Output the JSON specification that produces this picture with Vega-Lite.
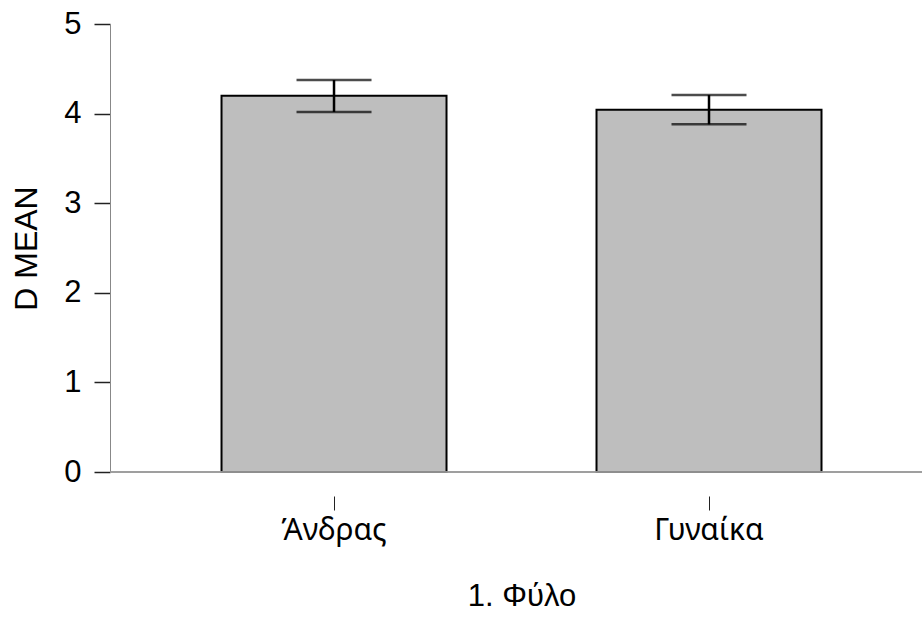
{
  "$schema": "https://vega.github.io/schema/vega-lite/v6.json",
  "width": 812,
  "height": 448,
  "padding": {"left": 110, "top": 24, "right": 0, "bottom": 147},
  "autosize": {"type": "none"},
  "background": "white",
  "config": {
    "view": {"stroke": null},
    "font": "Liberation Sans"
  },
  "data": {
    "values": [
      {"group": "Άνδρας", "mean": 4.20, "lower": 4.018, "upper": 4.375},
      {"group": "Γυναίκα", "mean": 4.044, "lower": 3.88, "upper": 4.208}
    ]
  },
  "encoding": {
    "x": {
      "field": "group",
      "type": "nominal",
      "sort": null,
      "scale": {"paddingInner": 0.4, "paddingOuter": 0.2827, "align": 0.526},
      "axis": {
        "title": "1. Φύλο",
        "titleFont": "Liberation Sans",
        "titleFontSize": 31,
        "titleFontWeight": "normal",
        "titleColor": "black",
        "titleX": 411.5,
        "titlePadding": 36,
        "labelAngle": 0,
        "labelFont": "Noto Sans",
        "labelFontSize": 30,
        "labelColor": "black",
        "labelPadding": 5,
        "domain": false,
        "offset": 24,
        "tickSize": 14,
        "tickColor": "#222222",
        "tickWidth": 1
      }
    }
  },
  "layer": [
    {
      "mark": {"type": "bar", "fill": "#bebebe", "stroke": "black", "strokeWidth": 2},
      "encoding": {
        "y": {
          "field": "mean",
          "type": "quantitative",
          "scale": {"domain": [0, 5], "nice": false},
          "axis": {
            "title": "D MEAN",
            "titleFont": "Liberation Sans",
            "titleFontSize": 32,
            "titleFontWeight": "normal",
            "titleColor": "black",
            "titlePadding": 20,
            "values": [0, 1, 2, 3, 4, 5],
            "format": "d",
            "labelFont": "Liberation Sans",
            "labelFontSize": 31,
            "labelColor": "black",
            "labelPadding": 13,
            "grid": false,
            "domainColor": "#888888",
            "domainWidth": 1,
            "tickColor": "#222222",
            "tickSize": 16,
            "tickWidth": 1.5
          }
        }
      }
    },
    {
      "mark": {"type": "rule", "color": "#999999", "strokeWidth": 1.5},
      "encoding": {
        "x": null,
        "y": {"datum": 0, "type": "quantitative"}
      }
    },
    {
      "mark": {"type": "rule", "color": "black", "strokeWidth": 2.5},
      "encoding": {
        "y": {"field": "lower", "type": "quantitative"},
        "y2": {"field": "upper"}
      }
    },
    {
      "mark": {"type": "tick", "orient": "horizontal", "color": "black", "size": 75, "thickness": 2.5},
      "encoding": {
        "y": {"field": "upper", "type": "quantitative"}
      }
    },
    {
      "mark": {"type": "tick", "orient": "horizontal", "color": "black", "size": 75, "thickness": 2.5},
      "encoding": {
        "y": {"field": "lower", "type": "quantitative"}
      }
    }
  ]
}
